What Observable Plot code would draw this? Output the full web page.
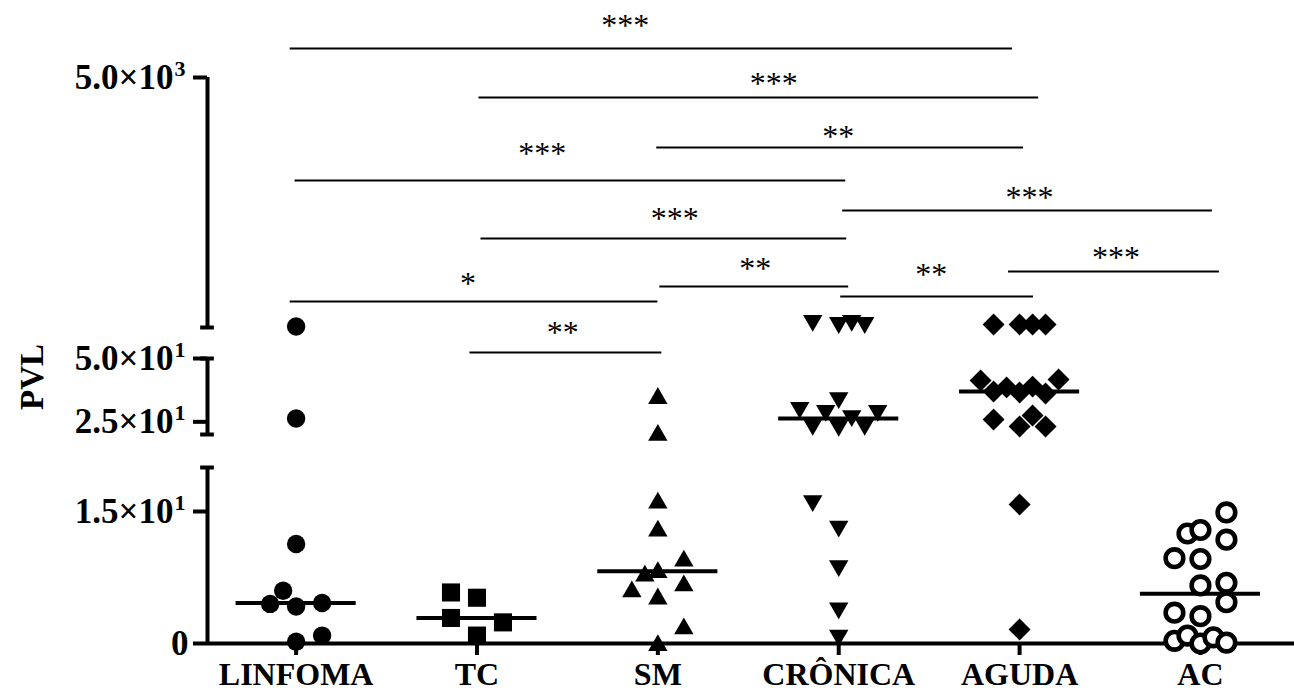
<!DOCTYPE html>
<html><head><meta charset="utf-8">
<script src="https://cdn.jsdelivr.net/npm/d3@7"></script>
<script src="https://cdn.jsdelivr.net/npm/@observablehq/plot@0.6"></script>
<style>
html,body{margin:0;padding:0;background:#fff;}
#chart{width:1294px;height:692px;overflow:hidden;}
</style></head><body><div id="chart"></div>
<script>
// ---------- data ----------
const categories = ["LINFOMA", "TC", "SM", "CRÔNICA", "AGUDA", "AC"];

// PVL values per group and the column-scatter slot of each point
const linfoma      = [70, 26.3, 11.3, 6.0, 4.5, 4.2, 4.6, 0.2, 0.9];
const linfomaSlots = [0, 0, 0, -0.5, -1, 0, 1, 0, 1];

const tc      = [5.8, 5.2, 2.9, 2.4, 0.9];
const tcSlots = [-1, 0, -1, 1, 0];

const sm      = [35.4, 20.8, 16.3, 13.1, 9.7, 8.4, 8.0, 6.9, 6.2, 5.4, 2.0, 0.1];
const smSlots = [0, 0, 0, 0, 1, 0, -0.5, 1, -1, 0, 1, 0];

const cronica      = [130, 90, 130, 90, 33.4, 29.5, 28.3, 28.3, 26.3, 22.8, 22.4, 22.8, 15.9, 13.0, 8.5, 3.7, 0.6];
const cronicaSlots = [-1, 0, 0.5, 1, 0, -1.5, -0.5, 1.5, 0.5, -1, 0, 1, -1, 0, 0, 0, 0];

const aguda      = [110, 110, 110, 110, 41.3, 37.0, 38.6, 36.6, 38.9, 36.2, 41.7, 25.9, 27.5, 23.2, 23.2, 15.8, 1.6];
const agudaSlots = [-1, 0, 0.5, 1, -1.5, -1, -0.5, 0, 0.5, 1, 1.5, -1, 0.5, 0, 1, 0, 0];

const ac      = [14.9, 12.5, 12.9, 11.8, 9.7, 9.6, 6.9, 6.6, 4.7, 3.5, 3.1, 0.3, 0.9, 0.0, 0.7, 0.1];
const acSlots = [1, -0.5, 0, 1, -1, 0, 1, 0, 1, -1, 0, -1, -0.5, 0, 0.5, 1];

// y-axis ticks: value, mantissa text and power-of-ten exponent
const yTickValues   = [0, 15, 25, 50, 5000];
const yTickMantissa = ["0", "1.5×10", "2.5×10", "5.0×10", "5.0×10"];
const yTickExponent = ["", "1", "1", "1", "3"];

// significance comparisons
const compFrom  = ["LINFOMA", "TC", "SM", "LINFOMA", "CRÔNICA", "TC", "SM", "CRÔNICA", "LINFOMA", "AGUDA", "TC"];
const compTo    = ["AGUDA", "AGUDA", "AGUDA", "CRÔNICA", "AC", "CRÔNICA", "CRÔNICA", "AGUDA", "SM", "AC", "SM"];
const compStars = ["***", "***", "**", "***", "***", "***", "**", "**", "*", "***", "**"];

// ---------- layout (broken y axis, annotation placement, in scale units) ----------
const yBreaks = [
  {lo: 0,  hi: 20,   y0: 0,   y1: 176},
  {lo: 20, hi: 50,   y0: 209, y1: 285},
  {lo: 50, hi: 5000, y0: 316, y1: 566}
];
const compBar     = [595, 546, 496, 463, 433, 405, 357, 347, 342, 372, 291];
const compMark    = [623, 565, 512, 495, 451, 430, 380, 374, 365, 391, 316];
const compFromAdj = [-0.033, 0.011, -0.006, -0.006, 0.022, 0.022, 0.011, 0.011, -0.033, -0.061, -0.039];
const compToAdj   = [-0.039, 0.105, 0.022, 0.039, 0.066, 0.044, 0.055, 0.077, 0, 0.105, 0.022];
const compMarkAdj = [-0.144, 0.083, -0.011, -0.155, 0.011, 0.061, 0.006, -0.033, -0.033, 0.011, -0.017];

function brk(v) {
  for (const s of yBreaks) if (v <= s.hi) return s.y0 + (v - s.lo) / (s.hi - s.lo) * (s.y1 - s.y0);
  const s = yBreaks[yBreaks.length - 1];
  return s.y0 + (v - s.lo) / (s.hi - s.lo) * (s.y1 - s.y0);
}

const xMin = -0.49, xMax = 5.52;
const slotW = 0.1437;     // one scatter column, in category units
const medHalf = 0.332;    // half width of the median bar
const capHalf = 0.038;    // half width of axis segment caps

const groups = [
  {values: linfoma, slots: linfomaSlots, style: {symbol: "circle", r: 9.2, fill: "black"}},
  {values: tc, slots: tcSlots, style: {symbol: "square", r: 10.2, fill: "black"}},
  {values: sm, slots: smSlots, style: {symbol: "triangle", r: 7.2, fill: "black", dy: 2.8}},
  {values: cronica, slots: cronicaSlots, style: {symbol: "triangle", r: 7.2, fill: "black", rotate: 180, dy: -2.8}},
  {values: aguda, slots: agudaSlots, style: {symbol: "diamond2", r: 9.9, fill: "black"}},
  {values: ac, slots: acSlots, style: {symbol: "circle", r: 8.8, fill: "white", stroke: "black", strokeWidth: 4.6}}
].map((g, i) => ({...g, i, cat: categories[i],
  points: g.values.map((v, k) => ({i, value: v, slot: g.slots[k]}))}));

const comps = compFrom.map((a, k) => {
  const x1 = categories.indexOf(a) + compFromAdj[k];
  const x2 = categories.indexOf(compTo[k]) + compToAdj[k];
  return {x1, x2, xm: (x1 + x2) / 2 + compMarkAdj[k], stars: compStars[k], bar: compBar[k], mark: compMark[k]};
});

const yTicks = yTickValues.map((v, k) => ({y: brk(v), mant: yTickMantissa[k], exp: yTickExponent[k]}));
const yTicksPlain = yTicks.filter(d => !d.exp);
const yTicksPow = yTicks.filter(d => d.exp);

const marks = [];

// significance bars and stars
marks.push(Plot.ruleY(comps, {y: d => d.bar, x1: d => d.x1, x2: d => d.x2, stroke: "black", strokeWidth: 2}));
marks.push(Plot.text(comps, {x: d => d.xm, y: d => d.mark, text: d => d.stars,
  fontSize: 32, fontWeight: "normal", dy: 5, textAnchor: "middle"}));

// broken y axis segments, caps, ticks and labels
marks.push(Plot.ruleX(yBreaks, {x: () => xMin, y1: d => d.y0, y2: d => d.y1, stroke: "black", strokeWidth: 4}));
const caps = [yBreaks[0].y1, yBreaks[1].y0, yBreaks[1].y1, yBreaks[2].y0];
marks.push(Plot.ruleY(caps, {y: d => d, x1: xMin - capHalf, x2: xMin + capHalf, stroke: "black", strokeWidth: 4}));
marks.push(Plot.axisY(yTicks.map(d => d.y), {anchor: "left", tickSize: 14, tickFormat: () => "", strokeWidth: 4, label: null}));
marks.push(Plot.text(yTicksPlain, {x: () => xMin, y: "y", text: "mant", textAnchor: "end", dx: -19, fontSize: 35}));
marks.push(Plot.text(yTicksPow, {x: () => xMin, y: "y", text: "mant", textAnchor: "end", dx: -34, fontSize: 35}));
marks.push(Plot.text(yTicksPow, {x: () => xMin, y: "y", text: "exp", textAnchor: "start", dx: -33, dy: -9, fontSize: 22}));

// x axis
marks.push(Plot.ruleY([0], {x1: xMin, x2: xMax, stroke: "black", strokeWidth: 4}));
marks.push(Plot.axisX(d3.range(categories.length), {anchor: "bottom", tickSize: 12, tickPadding: 7,
  tickFormat: i => categories[i], fontSize: 32, strokeWidth: 4, label: null}));

// y axis title
marks.push(Plot.text(["PVL"], {frameAnchor: "left", rotate: -90, dx: -175, dy: 88, fontSize: 33, fontWeight: "bold"}));

// medians
marks.push(Plot.ruleY(groups, {y: g => brk(d3.median(g.values)), x1: g => g.i - medHalf, x2: g => g.i + medHalf,
  stroke: "black", strokeWidth: 4}));

// points
for (const g of groups) {
  marks.push(Plot.dot(g.points, {x: d => d.i + d.slot * slotW, y: d => brk(d.value), ...g.style}));
}

const chart = Plot.plot({
  width: 1294, height: 692,
  marginLeft: 207, marginRight: 0, marginTop: 0, marginBottom: 49,
  x: {type: "linear", domain: [xMin, xMax]},
  y: {type: "linear", domain: [0, 643]},
  style: {fontFamily: '"Liberation Serif", "Times New Roman", serif', fontWeight: "bold", background: "white", color: "black", overflow: "visible"},
  marks
});
document.getElementById("chart").appendChild(chart);
</script>
</body></html>
